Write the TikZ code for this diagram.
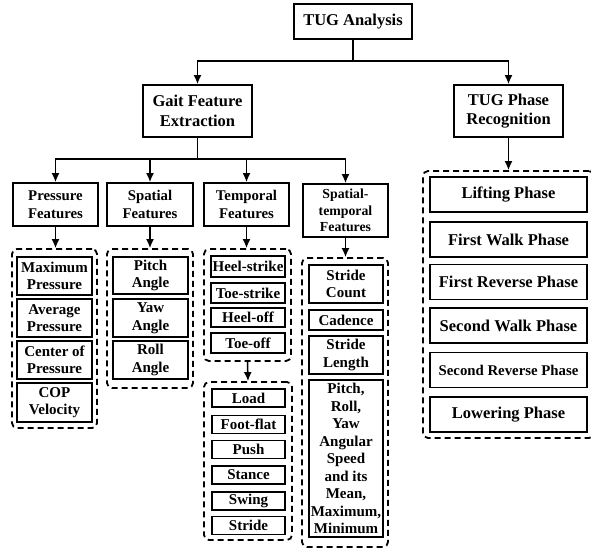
\documentclass[tikz,border=0pt]{standalone}
\usepackage{fontspec}
\setmainfont{Liberation Serif}
\usetikzlibrary{arrows.meta}

\begin{document}
\begin{tikzpicture}[x=1pt, y=-1pt, >={Latex[length=9pt,width=8pt]},
	hbox/.style={draw, line width=1.8pt, inner sep=0pt, align=center, font=\fontsize{16.5}{19.5}\selectfont\bfseries},
	fbox/.style={draw, line width=1.8pt, inner sep=0pt, align=center, minimum width=85, minimum height=43, font=\fontsize{14.8}{18}\selectfont\bfseries},
	ibox/.style={draw, line width=1.3pt, inner sep=0pt, align=center, minimum width=75, font=\fontsize{15}{17.5}\selectfont\bfseries},
	pbox/.style={draw, line width=1.3pt, inner sep=0pt, align=center, minimum width=157, minimum height=35, font=\fontsize{16.5}{19}\selectfont\bfseries},
	grp/.style={draw, dash pattern=on 6pt off 4pt, line width=1.8pt, rounded corners=5pt, inner sep=0pt},
	conn/.style={line width=1.5pt}]
		\useasboundingbox (0,0) rectangle (591,548);
		\clip (0,0) rectangle (591,548);

		% top levels
		\node[hbox, minimum width=118, minimum height=35] (ana) at (353,21.5) {TUG Analysis};
		\node[hbox, minimum width=109, minimum height=52] (gait) at (197.5,111) {Gait Feature\\Extraction};
		\node[hbox, minimum width=109, minimum height=52] (phase) at (508.5,111) {TUG Phase\\Recognition};

		% feature headers
		\node[fbox] (press) at (55.5,204.5) {Pressure\\Features};
		\node[fbox, minimum width=86] (spat) at (150,204.5) {Spatial\\Features};
		\node[fbox] (temp) at (246.5,204.5) {Temporal\\Features};
		\node[fbox, minimum height=53, font=\fontsize{13.8}{16.5}\selectfont\bfseries] (sptemp) at (345.5,210.5) {Spatial-\\temporal\\Features};

		% dashed groups
		\node[grp, minimum width=85, minimum height=179] (pgrp) at (54.5,338.5) {};
		\node[grp, minimum width=86, minimum height=139] (sgrp) at (150,318.5) {};
		\node[grp, minimum width=87, minimum height=112] (tgrpa) at (247.5,305) {};
		\node[grp, minimum width=88, minimum height=158] (tgrpb) at (248,461) {};
		\node[grp, minimum width=86, minimum height=289] (stgrp) at (345,402.5) {};
		\node[grp, minimum width=171, minimum height=267] (phgrp) at (508.5,304.5) {};

		% pressure
		\node[ibox, minimum height=38] (maxp) at (54.5,276) {Maximum\\Pressure};
		\node[ibox, minimum height=38] (avgp) at (54.5,318) {Average\\Pressure};
		\node[ibox, minimum height=38] (cop) at (54.5,360) {Center of\\Pressure};
		\node[ibox, minimum height=39] (copv) at (54.5,402.5) {COP\\Velocity};

		% spatial
		\node[ibox, minimum height=37] (pitch) at (150.5,275.5) {Pitch\\Angle};
		\node[ibox, minimum height=38] (yaw) at (150.5,318) {Yaw\\Angle};
		\node[ibox, minimum height=38] (roll) at (150.5,360) {Roll\\Angle};

		% temporal
		\node[ibox, minimum width=74, minimum height=21] (hs) at (248,266.5) {Heel-strike};
		\node[ibox, minimum width=74, minimum height=20] (ts) at (248,293) {Toe-strike};
		\node[ibox, minimum width=74, minimum height=19] (ho) at (248,317.5) {Heel-off};
		\node[ibox, minimum width=74, minimum height=20] (to) at (248,343) {Toe-off};
		\node[ibox, minimum width=73, minimum height=18] (load) at (248.5,398) {Load};
		\node[ibox, minimum width=73, minimum height=18] (flat) at (248.5,424.5) {Foot-flat};
		\node[ibox, minimum width=73, minimum height=18] (push) at (248.5,449.5) {Push};
		\node[ibox, minimum width=73, minimum height=18] (stance) at (248.5,475) {Stance};
		\node[ibox, minimum width=73, minimum height=18] (swing) at (248.5,501) {Swing};
		\node[ibox, minimum width=73, minimum height=18] (stride) at (248.5,525.5) {Stride};

		% spatial-temporal
		\node[ibox, minimum width=74, minimum height=38] (count) at (346,284) {Stride\\Count};
		\node[ibox, minimum width=74, minimum height=20] (cad) at (346,320) {Cadence};
		\node[ibox, minimum width=74, minimum height=38] (len) at (346,355) {Stride\\Length};
		\node[ibox, minimum width=74, minimum height=157] (speed) at (346,458.5) {Pitch,\\Roll,\\Yaw\\Angular\\Speed\\and its\\Mean,\\Maximum,\\Minimum};

		% phases
		\node[pbox] (lift) at (508.5,194.5) {Lifting Phase};
		\node[pbox] (walka) at (508.5,239.5) {First Walk Phase};
		\node[pbox] (reva) at (508.5,282) {First Reverse Phase};
		\node[pbox] (walkb) at (508.5,325.5) {Second Walk Phase};
		\node[pbox, font=\fontsize{14.8}{17}\selectfont\bfseries] (revb) at (508.5,370) {Second Reverse Phase};
		\node[pbox] (lower) at (508.5,414.5) {Lowering Phase};

		% connectors
		\coordinate (top) at (353,61);
		\coordinate (mid) at (197.5,159);
		\draw[conn, ->] (ana) -- (top) -| (gait);
		\draw[conn, ->] (top) -| (phase);
		\draw[conn] (gait) -- (mid);
		\draw[conn, ->] (mid) -| (press);
		\draw[conn, ->] (mid) -| (spat);
		\draw[conn, ->] (mid) -| (temp);
		\draw[conn, ->] (mid) -| (sptemp);
		\draw[conn, ->] (press.south) -- (press.south |- pgrp.north);
		\draw[conn, ->] (spat.south) -- (spat.south |- sgrp.north);
		\draw[conn, ->] (temp.south) -- (temp.south |- tgrpa.north);
		\draw[conn, ->] (sptemp.south) -- (sptemp.south |- stgrp.north);
		\draw[conn, ->] (tgrpa.south) -- (tgrpb.north);
		\draw[conn, ->] (phase.south) -- (phgrp.north);
	\end{tikzpicture}
\end{document}
